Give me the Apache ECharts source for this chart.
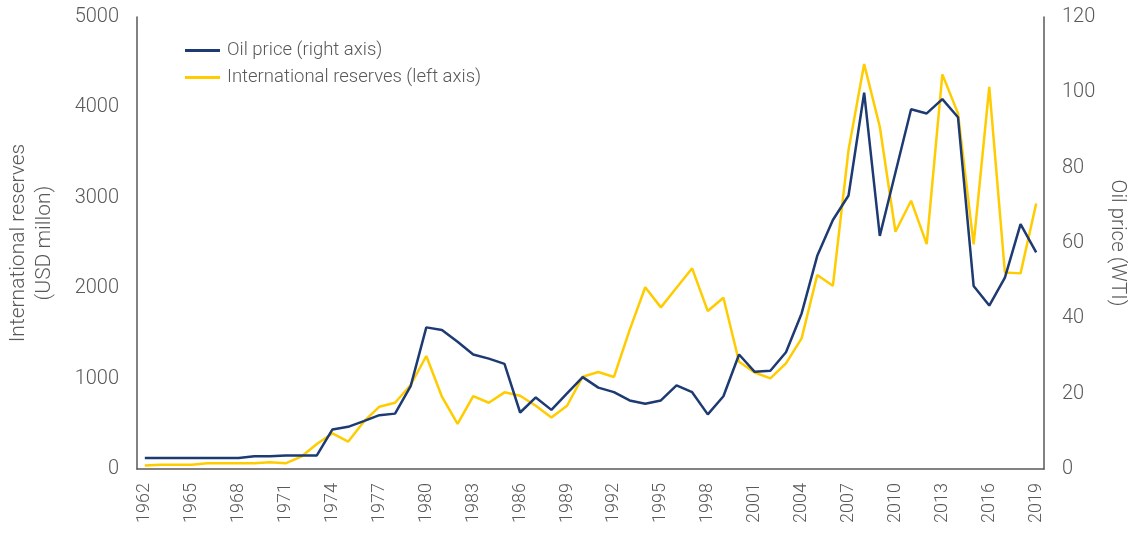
<!DOCTYPE html>
<html>
<head>
<meta charset="utf-8">
<script src="https://cdn.jsdelivr.net/npm/echarts@6/dist/echarts.min.js"></script>
<style>
  html, body { margin: 0; padding: 0; background: #fff; }
  #chart { width: 1128px; height: 537px; }
</style>
</head>
<body>
<div id="chart"></div>
<script>
// years 1962..2019
const years = [
  '1962','1963','1964','1965','1966','1967','1968','1969','1970','1971',
  '1972','1973','1974','1975','1976','1977','1978','1979','1980','1981',
  '1982','1983','1984','1985','1986','1987','1988','1989','1990','1991',
  '1992','1993','1994','1995','1996','1997','1998','1999','2000','2001',
  '2002','2003','2004','2005','2006','2007','2008','2009','2010','2011',
  '2012','2013','2014','2015','2016','2017','2018','2019'
]

// international reserves, USD million (left axis)
const reserves = [
  40, 48, 48, 48, 63, 63, 63, 63, 74, 63,
  136, 276, 395, 302, 523, 689, 733, 929, 1250, 800,
  498, 807, 733, 848, 811, 700, 571, 700, 1021, 1073,
  1018, 1537, 2010, 1788, 2005, 2220, 1747, 1895, 1187, 1067,
  1003, 1169, 1445, 2146, 2027, 3528, 4479, 3786, 2625, 2968,
  2488, 4365, 3934, 2485, 4228, 2175, 2164, 2938
]

// oil price, WTI (right axis)
const oilPrice = [
  2.9, 2.9, 2.9, 2.9, 2.9, 2.9, 2.9, 3.4, 3.4, 3.6,
  3.6, 3.6, 10.5, 11.2, 12.7, 14.3, 14.7, 22.0, 37.6, 36.9,
  33.8, 30.4, 29.3, 27.9, 15.0, 19.0, 15.7, 20.1, 24.4, 21.6,
  20.4, 18.2, 17.3, 18.2, 22.2, 20.4, 14.5, 19.3, 30.4, 25.8,
  26.1, 31.0, 41.3, 56.6, 66.1, 72.6, 99.9, 61.9, 78.7, 95.5,
  94.4, 98.2, 93.4, 48.6, 43.4, 50.8, 65.0, 57.5
]

const gray = '#595959'
const font = 'Roboto, "Noto Sans", sans-serif'

const chart = echarts.init(document.getElementById('chart'))
chart.setOption({
  animation: false,
  textStyle: { fontFamily: font },
  grid: { left: 137, right: 84, top: 17, bottom: 68, containLabel: false, outerBoundsMode: 'none' },
  legend: {
    orient: 'vertical',
    left: 180,
    top: 36,
    itemGap: 8,
    itemWidth: 35,
    itemHeight: 3,
    icon: 'rect',
    textStyle: { color: gray, fontSize: 18.5, fontWeight: 300, fontFamily: font, padding: [0, 0, 0, 2] },
    data: ['Oil price (right axis)', 'International reserves (left axis)']
  },
  xAxis: {
    type: 'category',
    data: years,
    boundaryGap: true,
    axisLine: { lineStyle: { color: gray, width: 1.5 } },
    axisTick: { show: false },
    axisLabel: {
      interval: 2,
      rotate: 90,
      margin: 14,
      color: gray,
      fontSize: 18,
      fontWeight: 300
    }
  },
  yAxis: [{
    type: 'value',
    min: 0,
    max: 5000,
    interval: 1000,
    name: 'International reserves\n(USD millon)',
    nameLocation: 'middle',
    nameRotate: 90,
    nameGap: 79,
    nameTextStyle: { color: gray, fontSize: 21, fontWeight: 300, lineHeight: 26 },
    axisLine: { show: true, lineStyle: { color: gray, width: 1.5 } },
    axisTick: { show: false },
    splitLine: { show: false },
    axisLabel: { color: gray, fontSize: 20, fontWeight: 300, margin: 18, formatter: v => String(v) }
  }, {
    type: 'value',
    min: 0,
    max: 120,
    interval: 20,
    position: 'right',
    name: 'Oil price (WTI)',
    nameLocation: 'middle',
    nameRotate: -90,
    nameGap: 56,
    nameTextStyle: { color: gray, fontSize: 20.5, fontWeight: 300 },
    axisLine: { show: true, lineStyle: { color: gray, width: 1.5 } },
    axisTick: { show: false },
    splitLine: { show: false },
    axisLabel: { color: gray, fontSize: 20, fontWeight: 300, margin: 18, formatter: v => String(v) }
  }],
  series: [{
    name: 'International reserves (left axis)',
    type: 'line',
    yAxisIndex: 0,
    data: reserves,
    showSymbol: false,
    itemStyle: { color: '#ffcc00' },
    lineStyle: { color: '#ffcc00', width: 2.5 }
  }, {
    name: 'Oil price (right axis)',
    type: 'line',
    yAxisIndex: 1,
    data: oilPrice,
    showSymbol: false,
    itemStyle: { color: '#1d3a72' },
    lineStyle: { color: '#1d3a72', width: 2.5 }
  }]
})
</script>
</body>
</html>
